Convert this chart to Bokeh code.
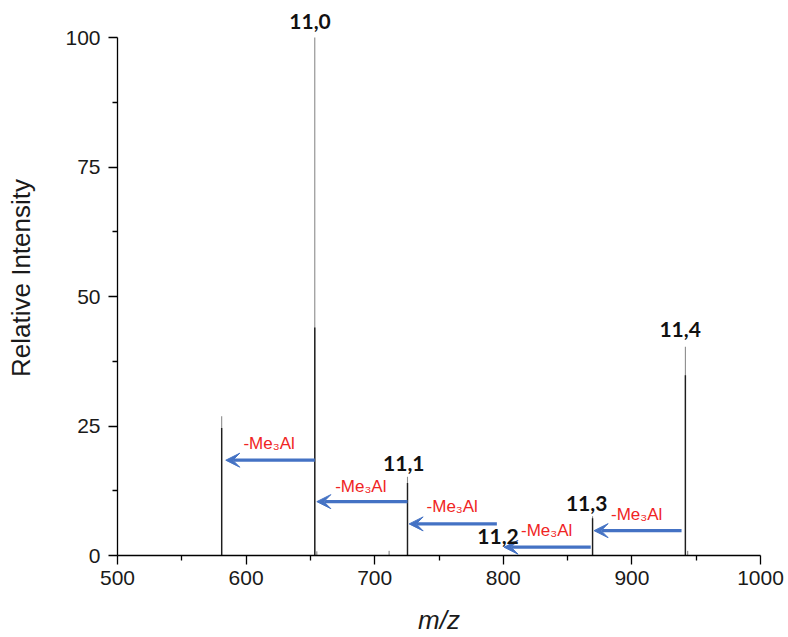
from bokeh.embed import file_html
from bokeh.resources import INLINE
from bokeh.plotting import figure
from bokeh.core.properties import value
from bokeh.models import (ColumnDataSource, Range1d, FixedTicker, LabelSet,
                          Arrow, VeeHead)

# Main cluster peaks (m/z, relative intensity) and the darker isotope core
peak_mz = [581.0, 653.4, 725.5, 869.4, 941.6]
peak_intensity = [26.9, 100.0, 15.2, 7.6, 40.3]
core_intensity = [24.6, 44.0, 14.0, 7.2, 34.8]

# Small background signals near the baseline
minor_mz = [655.0, 711.2, 943.4]
minor_intensity = [0.8, 0.9, 0.9]

# Cluster labels
cluster_text = ["11,0", "11,1", "11,2", "11,3", "11,4"]
cluster_mz = [649.7, 722.6, 795.9, 864.8, 937.5]
cluster_y = [103.1, 17.8, 3.6, 10.1, 43.7]

# Loss of Me3Al arrows (from parent peak towards fragment)
loss_from_mz = [653.4, 725.5, 795.0, 868.0, 938.6]
loss_to_mz = [584.2, 655.0, 726.8, 800.6, 870.6]
loss_y = [18.4, 10.4, 6.1, 1.6, 4.8]

# "-Me3Al" annotations
loss_text = ["-Me\u2083Al"] * 5
loss_label_mz = [617.9, 689.2, 760.3, 833.7, 903.7]
loss_label_y = [21.7, 13.4, 9.4, 4.8, 8.0]

x_ticks = [500, 600, 700, 800, 900, 1000]
x_minor = [550, 650, 750, 850, 950]
y_ticks = [0, 25, 50, 75, 100]
y_minor = [12.5, 37.5, 62.5, 87.5]

FONT = "Liberation Sans"

# headroom above 100 keeps the top cluster label inside the frame
p = figure(width=788, height=637, output_backend="svg", toolbar_location=None,
           x_range=Range1d(500, 1000), y_range=Range1d(0, 107.15),
           min_border_left=117, min_border_right=28,
           min_border_top=0, min_border_bottom=82)
p.background_fill_color = "white"
p.border_fill_color = "white"
p.outline_line_color = None
p.xgrid.visible = False
p.ygrid.visible = False

# spectrum sticks
p.segment(x0=peak_mz, y0=[0] * len(peak_mz), x1=peak_mz, y1=peak_intensity,
          line_color="#8c8c8c", line_width=1.1)
p.segment(x0=peak_mz, y0=[0] * len(peak_mz), x1=peak_mz, y1=core_intensity,
          line_color="#1e1e1e", line_width=1.4)
p.segment(x0=minor_mz, y0=[0] * len(minor_mz), x1=minor_mz, y1=minor_intensity,
          line_color="#777777", line_width=1.0)

# arrows
arrow_src = ColumnDataSource(dict(x0=loss_from_mz, x1=loss_to_mz, y=loss_y))
p.add_layout(Arrow(source=arrow_src, x_start="x0", y_start="y", x_end="x1", y_end="y",
                   line_color="#4472C4", line_width=3.2,
                   end=VeeHead(size=14, fill_color="#4472C4", line_color="#4472C4",
                               line_width=1)))

loss_src = ColumnDataSource(dict(x=loss_label_mz, y=loss_label_y, t=loss_text))
p.add_layout(LabelSet(source=loss_src, x="x", y="y", text="t",
                      text_align="center", text_baseline="middle",
                      text_font=value(FONT), text_font_size=value("17px"),
                      text_color="#F02424"))

cluster_src = ColumnDataSource(dict(x=cluster_mz, y=cluster_y, t=cluster_text))
p.add_layout(LabelSet(source=cluster_src, x="x", y="y", text="t",
                      text_align="center", text_baseline="middle",
                      text_font=value("Lato"), text_font_style="bold",
                      text_font_size=value("21px"), text_color="#111111"))

# axes
for ax in (p.xaxis, p.yaxis):
    ax.axis_line_color = "black"
    ax.axis_line_width = 1.3
    ax.major_tick_line_color = "black"
    ax.major_tick_line_width = 1.3
    ax.minor_tick_line_color = "black"
    ax.minor_tick_line_width = 1.3
    ax.major_tick_in = 0
    ax.minor_tick_in = 0
    ax.major_tick_out = 9
    ax.minor_tick_out = 5
    ax.major_label_text_font = FONT
    ax.major_label_text_font_size = "21px"
    ax.major_label_text_color = "#1a1a1a"
    ax.axis_label_text_font = FONT
    ax.axis_label_text_font_size = "26px"
    ax.axis_label_text_color = "#1a1a1a"

p.xaxis.ticker = FixedTicker(ticks=x_ticks, minor_ticks=x_minor)
p.yaxis.ticker = FixedTicker(ticks=y_ticks, minor_ticks=y_minor)
p.yaxis.bounds = (0, 100)
p.xaxis.major_label_standoff = 6
p.yaxis.major_label_standoff = 8

p.xaxis.axis_label = "m/z"
p.xaxis.axis_label_text_font_style = "italic"
p.xaxis.axis_label_standoff = 17

p.yaxis.axis_label = "Relative Intensity"
p.yaxis.axis_label_text_font_style = "normal"
p.yaxis.axis_label_standoff = 26

open("out.html", "w").write(file_html(p, INLINE))
